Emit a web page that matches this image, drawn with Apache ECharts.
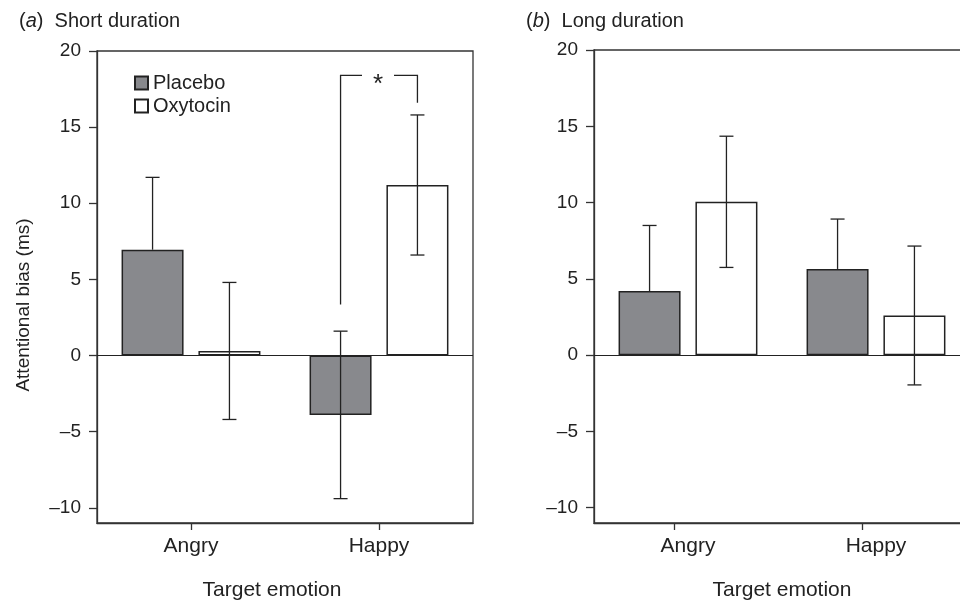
<!DOCTYPE html>
<html><head><meta charset="utf-8">
<script src="https://cdn.jsdelivr.net/npm/echarts@6/dist/echarts.min.js"></script>
<style>html,body{margin:0;padding:0;background:#fff}#c{width:960px;height:600px}</style>
</head><body><div id="c"></div>
<script>
// ---- data ----
const categories = ['Angry', 'Happy'];
const seriesNames = ['Placebo', 'Oxytocin'];
const shortPlacebo = [6.95, -3.9];
const shortPlaceboSE = [4.75, 5.5];
const shortOxytocin = [0.3, 11.2];
const shortOxytocinSE = [4.5, 4.6];
const longPlacebo = [4.2, 5.65];
const longPlaceboSE = [4.3, 3.27];
const longOxytocin = [10.05, 2.6];
const longOxytocinSE = [4.3, 4.55];
const yTicks = [-10, -5, 0, 5, 10, 15, 20];
const yMin = -11, yMax = 20;
const sigBracket = [[1, 18.4, 3.35, 16.6]]; // [category, top, left end, right end]
const longTickValues = [0.425, 1.425];
const titles = ['Short duration', 'Long duration'];
const titleLetters = ['a', 'b'];

// ---- style ----
const FONT = "'Liberation Sans', Arial, sans-serif";
const INK = '#222';
const FS = 19;
const FSX = 21;
const BAR_W = 62, GAP = 0.24;
const OFF = BAR_W * (1 + GAP) / 2;

const chart = echarts.init(document.getElementById('c'));

function errorSeries(idx, means, ses, sIdx) {
  return {
    type: 'custom', xAxisIndex: idx, yAxisIndex: idx, z: 5, silent: true, clip: false,
    data: means.map((m, i) => [i, m, ses[i]]),
    renderItem(params, api) {
      const i = api.value(0), m = api.value(1), se = api.value(2);
      const x = api.coord([i, m])[0] + (sIdx === 0 ? -OFF : OFF);
      const yTop = api.coord([i, m + se])[1];
      const yLow = api.coord([i, m - se])[1];
      const yMid = api.coord([i, m])[1];
      const hideLower = sIdx === 0 && m > 0;
      const st = { stroke: INK, lineWidth: 1.3 };
      const ch = [
        { type: 'line', shape: { x1: x, y1: yTop, x2: x, y2: hideLower ? yMid : yLow }, style: st },
        { type: 'line', shape: { x1: x - 7, y1: yTop, x2: x + 7, y2: yTop }, style: st }
      ];
      if (!hideLower) ch.push({ type: 'line', shape: { x1: x - 7, y1: yLow, x2: x + 7, y2: yLow }, style: st });
      return { type: 'group', children: ch };
    }
  };
}

function barSeries(idx, name, vals, color) {
  const s = {
    type: 'bar', name, xAxisIndex: idx, yAxisIndex: idx, data: vals,
    barWidth: BAR_W, barGap: (GAP * 100) + '%',
    itemStyle: { color, borderColor: INK, borderWidth: 1.5 },
    emphasis: { disabled: true }
  };
  if (name === seriesNames[0]) {
    s.markLine = {
      silent: true, symbol: ['none', 'none'], label: { show: false },
      lineStyle: { color: INK, width: 1.2, type: 'solid' },
      data: [{ yAxis: 0 }], animation: false
    };
  }
  return s;
}

const bracketSeries = {
  type: 'custom', xAxisIndex: 0, yAxisIndex: 0, z: 6, silent: true, clip: false,
  data: sigBracket,
  renderItem(params, api) {
    const c = api.value(0);
    const p = api.coord([c, api.value(1)]);
    const xc = p[0], yT = p[1];
    const xl = xc - OFF, xr = xc + OFF;
    const yL = api.coord([c, api.value(2)])[1];
    const yR = api.coord([c, api.value(3)])[1];
    const st = { stroke: INK, lineWidth: 1.3, fill: null };
    return { type: 'group', children: [
      { type: 'polyline', shape: { points: [[xl, yL], [xl, yT], [xc - 17, yT]] }, style: st },
      { type: 'polyline', shape: { points: [[xc + 15, yT], [xr, yT], [xr, yR]] }, style: st },
      { type: 'text', style: { text: '*', x: xc - 1, y: yT + 9, align: 'center', verticalAlign: 'middle',
        font: '26px ' + FONT, fill: INK } }
    ] };
  }
};

const grids = [
  { left: 97, top: 51, width: 376, height: 472 },
  { left: 594, top: 50, width: 376, height: 473 }
].map(g => Object.assign(g, { show: true, borderColor: '#333', borderWidth: 1.3, backgroundColor: 'transparent',
  containLabel: false, outerBoundsMode: 'none' }));

const axisTxt = { fontSize: FS, color: INK, fontFamily: FONT };
const axisTxtX = { fontSize: FSX, color: INK, fontFamily: FONT };

const xAxes = [0, 1].map(i => ({
  type: 'category', gridIndex: i, data: categories,
  axisLine: { show: true, onZero: false, lineStyle: { color: '#333', width: 1.3 } },
  axisTick: { show: i === 0, alignWithLabel: true, length: 7, lineStyle: { color: '#333', width: 1.3 } },
  axisLabel: Object.assign({ margin: 13 }, axisTxtX),
  name: 'Target emotion', nameLocation: 'middle', nameGap: 57,
  nameTextStyle: Object.assign({ padding: i === 0 ? [0, 26, 0, 0] : 0 }, axisTxtX)
}));
xAxes.push({
  type: 'value', gridIndex: 1, min: 0, max: 2, position: 'bottom',
  axisLine: { show: false, onZero: false },
  axisLabel: { show: false }, splitLine: { show: false },
  axisTick: { show: true, customValues: longTickValues, length: 7, lineStyle: { color: '#333', width: 1.3 } }
});

const yAxes = [0, 1].map(i => ({
  type: 'value', gridIndex: i, min: yMin, max: yMax,
  axisLine: { show: true, lineStyle: { color: '#333', width: 1.3 } },
  axisTick: { show: true, customValues: yTicks, length: 8, lineStyle: { color: '#333', width: 1.3 } },
  axisLabel: Object.assign({ customValues: yTicks, margin: 16, formatter: v => (v < 0 ? '\u2013' + Math.abs(v) : String(v)) }, axisTxt),
  splitLine: { show: false }
}));
Object.assign(yAxes[0], {
  name: 'Attentional bias (ms)', nameLocation: 'middle', nameGap: 64,
  nameTextStyle: Object.assign({ padding: [0, 36, 0, 0] }, axisTxt)
});

chart.setOption({
  animation: false,
  textStyle: { fontFamily: FONT },
  title: [
    { left: 14, top: 6 },
    { left: 521, top: 6 }
  ].map((t, i) => Object.assign(t, {
    text: '({i|' + titleLetters[i] + '})  ' + titles[i],
    textStyle: { fontSize: 20, fontWeight: 'normal', color: INK, fontFamily: FONT,
      rich: { i: { fontStyle: 'italic', fontSize: 20, color: INK, fontFamily: FONT } } }
  })),
  legend: {
    data: seriesNames, orient: 'vertical', left: 134, top: 73, padding: 0,
    itemWidth: 13, itemHeight: 13, itemGap: 3, icon: 'rect', selectedMode: false,
    textStyle: { fontSize: 20, color: INK, fontFamily: FONT }
  },
  grid: grids,
  xAxis: xAxes,
  yAxis: yAxes,
  series: [
    barSeries(0, seriesNames[0], shortPlacebo, '#88898d'),
    barSeries(0, seriesNames[1], shortOxytocin, '#ffffff'),
    errorSeries(0, shortPlacebo, shortPlaceboSE, 0),
    errorSeries(0, shortOxytocin, shortOxytocinSE, 1),
    bracketSeries,
    barSeries(1, seriesNames[0], longPlacebo, '#88898d'),
    barSeries(1, seriesNames[1], longOxytocin, '#ffffff'),
    errorSeries(1, longPlacebo, longPlaceboSE, 0),
    errorSeries(1, longOxytocin, longOxytocinSE, 1)
  ]
});
</script></body></html>
